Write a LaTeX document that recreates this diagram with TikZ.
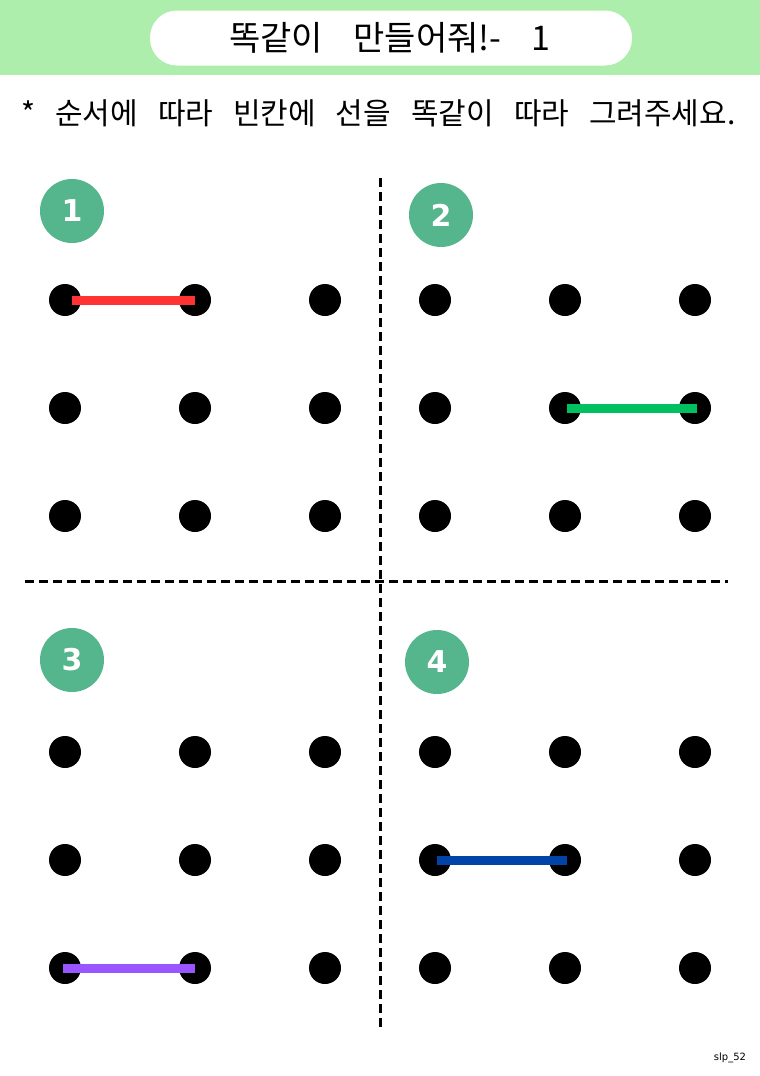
\documentclass[tikz,border=0pt]{standalone}
\usepackage{fontspec}
\newfontfamily\kr{Noto Sans CJK KR}
\newfontfamily\krt[WordSpace=4]{Noto Sans CJK KR}
\setsansfont{DejaVu Sans}
\newcommand\widesp{\spaceskip 20pt\relax}
\definecolor{band}{HTML}{ADEEAD}
\definecolor{badge}{HTML}{55B58C}
\definecolor{lred}{HTML}{FF3333}
\definecolor{lgreen}{HTML}{00C060}
\definecolor{lblue}{HTML}{0044AA}
\definecolor{lpurple}{HTML}{9955FF}
\tikzset{
  dot/.style={circle,fill=black,minimum size=32pt,inner sep=0pt},
  numbadge/.style={circle,fill=badge,minimum size=64pt,inner sep=0pt,text=white,font=\sffamily\bfseries\fontsize{30}{30}\selectfont},
  sep/.style={line width=3pt,dash pattern=on 9pt off 5pt},
  seg/.style={line width=9pt,line cap=butt}
}
\begin{document}
\begin{tikzpicture}[x=1pt,y=-1pt]
\useasboundingbox (0,0) rectangle (760,1076);
\fill[white] (0,0) rectangle (760,1076);
\fill[band] (0,0) rectangle (760,75);
\node[fill=white,rounded corners=27pt,minimum width=482pt,minimum height=55pt,inner sep=0pt] (pill) at (391,38) {};
\node[font=\krt\fontsize{34}{34}\selectfont] (title) at (390,38) {똑같이 만들어줘!- 1};
\node[font=\kr\fontsize{30}{30}\selectfont\widesp,anchor=west,inner sep=0pt] (instr) at (21,113) {* 순서에 따라 빈칸에 선을 똑같이 따라 그려주세요.};
% separators
\coordinate (vt) at (380,178);
\coordinate (vb) at (380,1030);
\coordinate (hl) at (25,581);
\coordinate (hr) at (728,581);
\draw[sep] (vt) -- (vb);
\draw[sep] (hl) -- (hr);
% badges
\node[numbadge] (n1) at (72,211) {1};
\node[numbadge] (n2) at (441,215) {2};
\node[numbadge] (n3) at (72,660) {3};
\node[numbadge] (n4) at (437,662) {4};
% dots
\foreach \g/\xo/\yo in {a/65/300,b/435/300,c/65/752,d/435/752}{
  \foreach \i in {0,1,2}{
    \foreach \j in {0,1,2}{
      \node[dot] (\g\i\j) at ({\xo+130*\i},{\yo+108*\j}) {};
    }
  }
}
% segments
\draw[seg,lred] (a00.center) ++(7,0) -- (a10.center);
\draw[seg,lgreen] (b11.center) ++(2,0) -- ([xshift=2pt]b21.center);
\draw[seg,lblue] (d01.center) ++(2,0) -- ([xshift=2pt]d11.center);
\draw[seg,lpurple] (c02.center) ++(-2,0) -- (c12.center);
\node[font=\sffamily\fontsize{10}{10}\selectfont] (foot) at (730,1058) {slp\_52};
\end{tikzpicture}
\end{document}
